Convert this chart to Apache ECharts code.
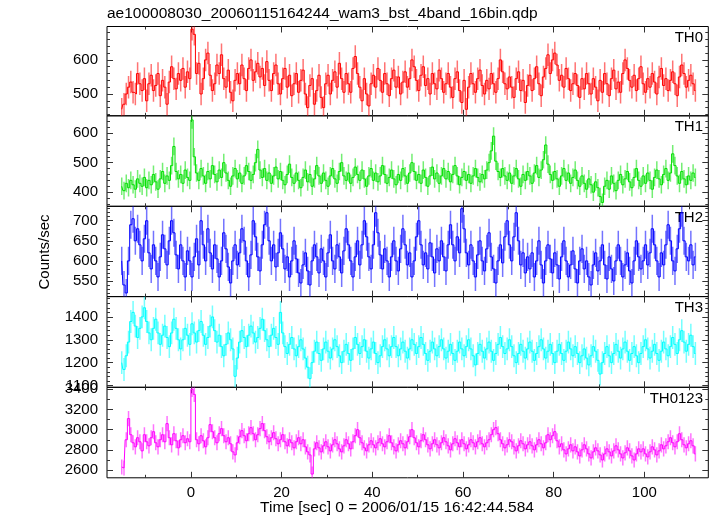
<!DOCTYPE html>
<html><head><meta charset="utf-8">
<script src="https://cdn.jsdelivr.net/npm/echarts@6/dist/echarts.min.js"></script>
<style>html,body{margin:0;padding:0;background:#fff}#c{width:717px;height:516px}</style>
</head><body><div id="c"></div>
<script>
// bin centres: first bin centre and bin width (0.5 s bins)
const binStart = -15.25, binWidth = 0.5;

const TH0 = [
455,470,500,520,535,505,500,560,530,510, 545,480,530,555,510,525,560,495,540,520,
470,535,580,545,515,560,540,575,520,565, 545,690,675,560,590,500,545,600,620,555,
510,530,585,560,615,545,520,570,505,480, 540,560,530,585,545,510,575,600,540,565,
590,550,575,525,595,540,510,560,585,530, 500,545,575,520,555,495,530,560,505,540,
570,500,460,525,545,470,510,555,490,460, 530,555,500,540,565,520,590,545,505,560,
530,505,575,610,560,520,480,545,500,465, 530,555,520,575,540,505,560,530,495,545,
570,520,550,500,535,565,520,545,600,580, 540,510,555,580,525,545,500,560,530,515,
570,545,505,530,560,520,490,545,565,510, 475,540,455,520,560,530,505,545,570,525,
500,540,515,560,530,505,545,600,565,530, 515,550,520,490,545,565,510,540,475,525,
555,510,545,580,530,495,550,575,615,560, 600,620,585,540,555,520,575,545,510,530,
560,525,490,545,515,560,530,500,545,520, 480,540,505,560,530,495,545,570,515,535,
505,560,600,575,540,520,555,510,545,580, 530,505,545,520,560,535,500,550,575,525,
545,510,540,565,530,495,550,585,560,520, 540,555,530,510];

const TH1 = [
420,405,430,415,440,425,410,445,430,420, 450,415,440,425,460,435,410,445,470,430,
455,440,490,555,470,445,460,430,475,450, 440,645,520,465,440,480,455,430,470,445,
490,460,435,475,450,500,465,440,420,455, 480,445,465,430,455,490,470,440,460,500,
545,475,450,480,440,465,430,455,485,445, 470,440,425,460,495,450,430,465,440,415,
450,475,435,460,420,445,490,455,430,465, 440,420,455,480,445,430,470,500,455,440,
465,430,450,485,460,440,475,445,420,455, 480,440,465,435,455,490,460,430,450,475,
445,425,460,440,480,455,430,465,500,470, 440,460,430,475,450,420,455,485,445,465,
430,455,480,445,470,435,460,490,455,425, 450,470,440,460,430,455,480,450,435,460,
445,475,500,540,590,505,470,450,480,455, 440,465,430,455,480,445,420,460,440,470,
455,430,465,490,450,475,510,560,495,460, 440,470,445,420,455,480,440,465,430,450,
475,440,420,455,430,410,445,425,400,435, 415,385,365,420,440,410,455,430,405,440,
460,425,445,470,435,415,450,480,440,420, 455,430,465,440,410,450,475,445,425,460,
480,440,465,530,490,455,430,470,445,425, 455,440,465,450];

const TH2 = [
600,540,520,600,690,705,650,680,640,600, 655,700,620,580,640,600,560,610,665,630,
590,650,700,670,615,580,640,600,560,625, 600,560,610,655,590,700,640,600,680,620,
580,640,605,560,600,670,630,585,545,600, 640,590,620,680,650,600,560,615,700,660,
610,575,640,690,720,650,600,640,585,620, 670,630,580,610,560,600,650,605,570,545,
590,620,575,540,600,640,610,570,630,600, 560,620,665,600,580,640,610,570,625,680,
640,600,560,610,650,590,640,700,660,610, 580,640,720,670,615,580,630,600,560,610,
650,600,575,630,680,640,590,620,560,600, 660,700,640,590,620,580,645,610,570,630,
600,650,610,575,640,690,640,600,660,620, 730,680,620,590,640,600,560,615,650,600,
575,630,670,610,580,545,600,640,595,660, 700,640,600,660,720,650,590,620,570,610,
580,620,560,600,650,590,545,600,640,605, 570,620,590,555,610,650,600,560,590,625,
580,545,600,630,580,600,560,540,590,620, 575,600,640,590,555,610,580,550,600,640,
600,560,590,620,575,545,600,650,610,580, 600,640,590,620,680,640,600,560,620,590,
640,690,650,600,575,630,680,720,650,610, 600,640,590,610];

const TH3 = [
1200,1170,1230,1290,1380,1420,1360,1310,1350,1400, 1440,1380,1330,1300,1350,1390,1330,1280,1320,1360,
1310,1270,1330,1390,1350,1300,1260,1300,1350,1320, 1280,1370,1330,1290,1340,1380,1320,1280,1310,1360,
1400,1340,1290,1320,1270,1230,1280,1330,1300,1260, 1140,1220,1290,1340,1310,1270,1320,1360,1330,1290,
1310,1350,1390,1340,1300,1270,1320,1350,1310,1280, 1420,1330,1270,1240,1280,1310,1260,1230,1270,1300,
1260,1220,1180,1130,1200,1250,1290,1240,1210,1260, 1290,1250,1220,1260,1300,1270,1230,1200,1250,1280,
1240,1210,1260,1310,1280,1240,1270,1300,1250,1220, 1260,1290,1240,1200,1230,1270,1300,1260,1230,1270,
1310,1270,1230,1260,1290,1250,1220,1260,1300,1280, 1240,1270,1310,1280,1240,1210,1250,1290,1260,1230,
1270,1300,1260,1220,1250,1280,1240,1210,1250,1290, 1260,1230,1270,1300,1260,1230,1190,1240,1280,1250,
1220,1260,1290,1250,1210,1240,1280,1310,1270,1240, 1260,1300,1270,1230,1200,1240,1280,1250,1220,1260,
1290,1250,1210,1240,1270,1300,1260,1220,1250,1280, 1240,1200,1250,1280,1240,1210,1250,1290,1260,1230,
1270,1240,1200,1230,1260,1220,1190,1230,1270,1250, 1210,1150,1200,1240,1270,1230,1200,1240,1280,1250,
1220,1260,1290,1250,1210,1240,1270,1230,1200,1240, 1270,1300,1260,1220,1250,1280,1240,1210,1250,1290,
1260,1230,1270,1310,1280,1240,1300,1340,1290,1250, 1280,1320,1270,1240];

const TH0123 = [
2630,2620,2900,3110,2950,2870,2830,2920,2880,2790, 2950,2880,2840,2920,2980,2870,2830,2900,2950,2880,
3060,2920,2850,2960,2890,2820,2900,2940,2870,2910, 2880,3400,3350,2900,2860,2940,2890,2830,2920,3050,
2980,2920,2870,2960,3010,2940,2880,2920,2860,2780, 2750,2870,2930,2990,2940,2890,2960,3020,2960,2900,
2950,3010,3060,2990,2930,2880,2920,2970,2910,2860, 2900,2950,2880,2840,2900,2870,2820,2880,2920,2860,
2900,2830,2780,2750,2560,2810,2870,2820,2780,2840, 2880,2830,2790,2850,2900,2860,2810,2780,2840,2900,
2860,2810,2880,2940,3000,2920,2870,2820,2790,2850, 2890,2850,2820,2870,2910,2860,2830,2880,2940,2870,
2830,2790,2850,2890,2860,2820,2880,2930,3000,2920, 2870,2830,2890,2950,2900,2850,2810,2860,2900,2850,
2820,2870,2920,2880,2840,2800,2860,2910,2870,2830, 2900,2860,2810,2850,2900,2870,2830,2880,2920,2860,
2830,2870,2900,2950,3000,3020,2960,2900,2860,2820, 2850,2900,2880,2830,2790,2840,2890,2860,2810,2850,
2880,2840,2800,2850,2900,2860,2820,2870,2950,2900, 2940,2980,2890,2830,2860,2800,2760,2810,2850,2790,
2830,2780,2740,2800,2850,2810,2760,2720,2780,2820, 2790,2750,2700,2760,2810,2780,2740,2790,2840,2800,
2760,2720,2770,2820,2790,2740,2700,2760,2810,2780, 2810,2760,2730,2780,2830,2800,2750,2790,2850,2810,
2840,2880,2920,2870,2830,2880,2960,2900,2850,2820, 2860,2890,2840,2760];

const panelNames = ['TH0', 'TH1', 'TH2', 'TH3', 'TH0123'];
const errHalf = [33, 30, 35, 50, 75];
const yMin = [436, 352, 511, 1092, 2523];
const yMax = [698, 659, 736, 1489, 3420];
const yMajor = [[500, 600], [400, 500, 600], [550, 600, 650, 700], [1100, 1200, 1300, 1400], [2600, 2800, 3000, 3200, 3400]];
const yMinorStep = [20, 20, 10, 20, 100];
const xMajor = [0, 20, 40, 60, 80, 100];
const xMinor = [-10, 10, 30, 50, 70, 90, 110];
const xLim = [-18.5, 114.1];
const titleText = 'ae100008030_20060115164244_wam3_bst_4band_16bin.qdp';
const xName = 'Time [sec] 0 = 2006/01/15 16:42:44.584';
const yName = 'Counts/sec';

const seriesData = [TH0, TH1, TH2, TH3, TH0123];
const colors = ['#ff0000', '#00e000', '#0000ff', '#00ffff', '#ff00ff'];
const FONT = "'Liberation Sans', Arial, Helvetica, sans-serif";

const tops = [26.5, 115.8, 206.3, 296.6, 387.3];
const bots = [115.8, 206.3, 296.6, 387.3, 477.8];
const gLeft = 107, gRight = 708.3;

const chart = echarts.init(document.getElementById('c'), null, {renderer: 'canvas'});
const grids = [], xAxes = [], yAxes = [], series = [], graphics = [];

function minorList(i) {
  const out = [];
  const s = yMinorStep[i];
  for (let v = Math.ceil(yMin[i] / s) * s; v <= yMax[i]; v += s) {
    if (yMajor[i].indexOf(v) < 0) out.push(v);
  }
  return out;
}
const plain = v => String(Math.round(v));

for (let i = 0; i < 5; i++) {
  grids.push({left: gLeft, top: tops[i], width: gRight - gLeft, height: bots[i] - tops[i],
    show: true, borderColor: '#000', borderWidth: 1, backgroundColor: 'transparent', containLabel: false});
  const mk = (pos, ticks, len, labels) => ({
    type: 'value', gridIndex: i, position: pos, min: xLim[0], max: xLim[1],
    axisLine: {show: false, onZero: false}, splitLine: {show: false},
    axisTick: {show: true, inside: true, length: len, customValues: ticks, lineStyle: {color: '#333', width: 1}},
    axisLabel: labels ? {show: true, customValues: xMajor, formatter: plain, color: '#000', fontSize: 15, fontFamily: FONT, margin: 8} : {show: false}
  });
  xAxes.push(mk('bottom', xMajor, 6, i === 4));
  xAxes.push(mk('bottom', xMinor, 3, false));
  xAxes.push(mk('top', xMajor, 6, false));
  xAxes.push(mk('top', xMinor, 3, false));
  const mky = (pos, ticks, len, labels) => ({
    type: 'value', gridIndex: i, position: pos, min: yMin[i], max: yMax[i],
    axisLine: {show: false, onZero: false}, splitLine: {show: false},
    axisTick: {show: true, inside: true, length: len, customValues: ticks, lineStyle: {color: '#333', width: 1}},
    axisLabel: labels ? {show: true, customValues: yMajor[i], formatter: plain, color: '#000', fontSize: 15, fontFamily: FONT, margin: 9} : {show: false}
  });
  const mn = minorList(i);
  yAxes.push(mky('left', yMajor[i], 6, true));
  yAxes.push(mky('left', mn, 3, false));
  yAxes.push(mky('right', yMajor[i], 6, false));
  yAxes.push(mky('right', mn, 3, false));

  const pts = seriesData[i].map((v, k) => [binStart + k * binWidth, v]);
  const e = errHalf[i];
  const col = colors[i];
  series.push({
    type: 'custom', xAxisIndex: i * 4, yAxisIndex: i * 4, data: pts, clip: true, silent: true, animation: false,
    renderItem: (params, api) => {
      const t = api.value(0), v = api.value(1);
      const p1 = api.coord([t, v - e]), p2 = api.coord([t, v + e]);
      return {type: 'line', shape: {x1: p1[0], y1: p1[1], x2: p2[0], y2: p2[1]},
        style: {stroke: col, lineWidth: 1.5, opacity: 0.55}};
    }
  });
  series.push({
    type: 'line', xAxisIndex: i * 4, yAxisIndex: i * 4, data: pts, step: 'middle', showSymbol: false, symbol: 'none',
    clip: true, silent: true, animation: false, lineStyle: {color: col, width: 1}, itemStyle: {color: col}
  });
  graphics.push({type: 'text', right: 717 - 703, top: tops[i] + 4, silent: true,
    style: {text: panelNames[i], font: '15px ' + FONT, fill: '#000', textAlign: 'right'}});
}

graphics.push({type: 'text', left: 107, top: 6, silent: true, style: {text: titleText, font: '15.5px ' + FONT, fill: '#000'}});
graphics.push({type: 'text', x: 397, y: 508, silent: true,
  style: {text: xName, font: '15.5px ' + FONT, fill: '#000', textAlign: 'center', textVerticalAlign: 'middle'}});
graphics.push({type: 'text', x: 45, y: 252, rotation: Math.PI / 2, silent: true,
  style: {text: yName, font: '15px ' + FONT, fill: '#000', textAlign: 'center', textVerticalAlign: 'middle'}});

chart.setOption({animation: false, backgroundColor: '#fff', grid: grids, xAxis: xAxes, yAxis: yAxes, series: series, graphic: graphics});
</script>
</body></html>
